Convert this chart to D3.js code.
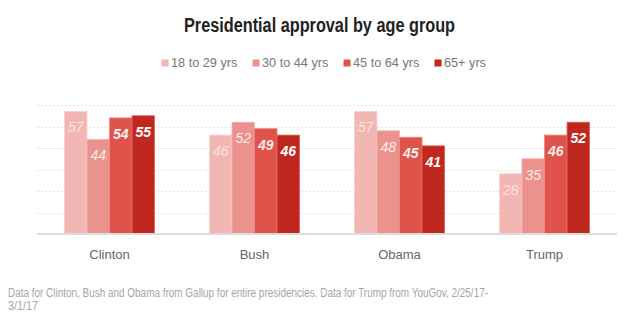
<!DOCTYPE html>
<html>
<head>
<meta charset="utf-8">
<script src="https://cdn.jsdelivr.net/npm/d3@7"></script>
<style>
  body { margin: 0; background: #fff; }
  svg { display: block; }
</style>
</head>
<body>
<div id="chart"></div>
<script>
(function () {
  const width = 640, height = 334;

  // Data
  const presidents = ["Clinton", "Bush", "Obama", "Trump"];
  const ageGroups  = ["18 to 29 yrs", "30 to 44 yrs", "45 to 64 yrs", "65+ yrs"];
  const age18to29  = [57, 46, 57, 28];
  const age30to44  = [44, 52, 48, 35];
  const age45to64  = [54, 49, 45, 46];
  const age65plus  = [55, 46, 41, 52];
  const gridTicks  = [10, 20, 30, 40, 50, 60];

  const seriesValues = [age18to29, age30to44, age45to64, age65plus];
  const colors = ["#f2b7b3", "#ec928c", "#e0534b", "#c0281f"];
  const strokes = ["#f7d2cf", "#f4b8b3", "#ec8a83", "#d8655e"];

  const rows = presidents.map((p, i) => ({
    president: p,
    values: ageGroups.map((g, j) => ({ group: g, idx: j, value: seriesValues[j][i] }))
  }));

  const plot = { left: 37, right: 617, top: 90, bottom: 234 };

  const svg = d3.select("#chart").append("svg")
      .attr("width", width)
      .attr("height", height);

  // Scales
  const x0 = d3.scaleBand()
      .domain(presidents)
      .range([plot.left, plot.right])
      .paddingInner(0.378)
      .paddingOuter(0.189);

  const x1 = d3.scaleBand()
      .domain(ageGroups)
      .range([0, x0.bandwidth()]);

  const y = d3.scaleLinear()
      .domain([0, 60])
      .range([plot.bottom, plot.bottom - 129]);

  // Title (squeezed to a condensed width)
  svg.append("text")
      .attr("x", 184)
      .attr("y", 32)
      .attr("textLength", 271)
      .attr("lengthAdjust", "spacingAndGlyphs")
      .style("font-family", "'Liberation Sans', Arial, sans-serif")
      .style("font-weight", "bold")
      .style("font-size", "19.5px")
      .style("fill", "#222")
      .text("Presidential approval by age group");

  // Legend
  const legendX = [161.5, 252.5, 343.5, 434.5];
  const legend = svg.append("g").selectAll("g")
    .data(ageGroups)
    .join("g")
      .attr("transform", (d, i) => `translate(${legendX[i]},59.5)`);

  legend.append("rect")
      .attr("width", 7)
      .attr("height", 7)
      .attr("fill", (d, i) => colors[i]);

  legend.append("text")
      .attr("x", 9.5)
      .attr("y", 7.5)
      .style("font-family", "'Liberation Sans', Arial, sans-serif")
      .style("font-size", "12.7px")
      .style("fill", "#777")
      .text(d => d);

  // Dotted gridlines
  svg.append("g").selectAll("line")
    .data(gridTicks)
    .join("line")
      .attr("x1", plot.left)
      .attr("x2", plot.right)
      .attr("y1", d => Math.round(y(d)) + 0.5)
      .attr("y2", d => Math.round(y(d)) + 0.5)
      .attr("stroke", "#e4e4e4")
      .attr("stroke-width", 1)
      .attr("stroke-dasharray", "2,2");

  // Bars
  const groups = svg.append("g").selectAll("g")
    .data(rows)
    .join("g")
      .attr("transform", d => `translate(${x0(d.president)},0)`);

  groups.selectAll("rect")
    .data(d => d.values)
    .join("rect")
      .attr("x", d => x1(d.group))
      .attr("y", d => y(d.value))
      .attr("width", x1.bandwidth())
      .attr("height", d => y(0) - y(d.value))
      .attr("fill", d => colors[d.idx])
      .attr("stroke", d => strokes[d.idx])
      .attr("stroke-width", 0.8);

  // Value labels inside the top of each bar
  const labelWeight = ["normal", "normal", "bold", "bold"];
  const labelFill = ["rgba(255,255,255,0.6)", "rgba(255,255,255,0.85)", "rgba(255,255,255,0.92)", "#fff"];

  groups.selectAll("text")
    .data(d => d.values)
    .join("text")
      .attr("x", d => x1(d.group) + x1.bandwidth() / 2)
      .attr("y", d => y(d.value) + 21)
      .attr("text-anchor", "middle")
      .style("font-family", "'Liberation Sans', Arial, sans-serif")
      .style("font-style", "italic")
      .style("font-weight", d => labelWeight[d.idx])
      .style("font-size", "14px")
      .style("fill", d => labelFill[d.idx])
      .text(d => d.value);

  // Baseline
  svg.append("line")
      .attr("x1", plot.left)
      .attr("x2", plot.right)
      .attr("y1", plot.bottom)
      .attr("y2", plot.bottom)
      .attr("stroke", "#dcdcdc")
      .attr("stroke-width", 2);

  // Category axis
  const xAxis = svg.append("g")
      .attr("transform", `translate(0,${plot.bottom})`)
      .call(d3.axisBottom(x0).tickSize(0).tickPadding(16));
  xAxis.select(".domain").remove();
  xAxis.selectAll("text")
      .style("font-family", "'Liberation Sans', Arial, sans-serif")
      .style("font-size", "13px")
      .style("fill", "#666");

  // Source note
  const note = svg.append("text")
      .style("font-family", "'Liberation Sans', Arial, sans-serif")
      .style("font-size", "12.5px")
      .style("fill", "#a6a6a6");
  note.append("tspan")
      .attr("x", 8).attr("y", 297)
      .attr("textLength", 480)
      .attr("lengthAdjust", "spacingAndGlyphs")
      .text("Data for Clinton, Bush and Obama from Gallup for entire presidencies. Data for Trump from YouGov, 2/25/17-");
  note.append("tspan")
      .attr("x", 8).attr("y", 309.5)
      .attr("textLength", 30)
      .attr("lengthAdjust", "spacingAndGlyphs")
      .text("3/1/17");
})();
</script>
</body>
</html>
